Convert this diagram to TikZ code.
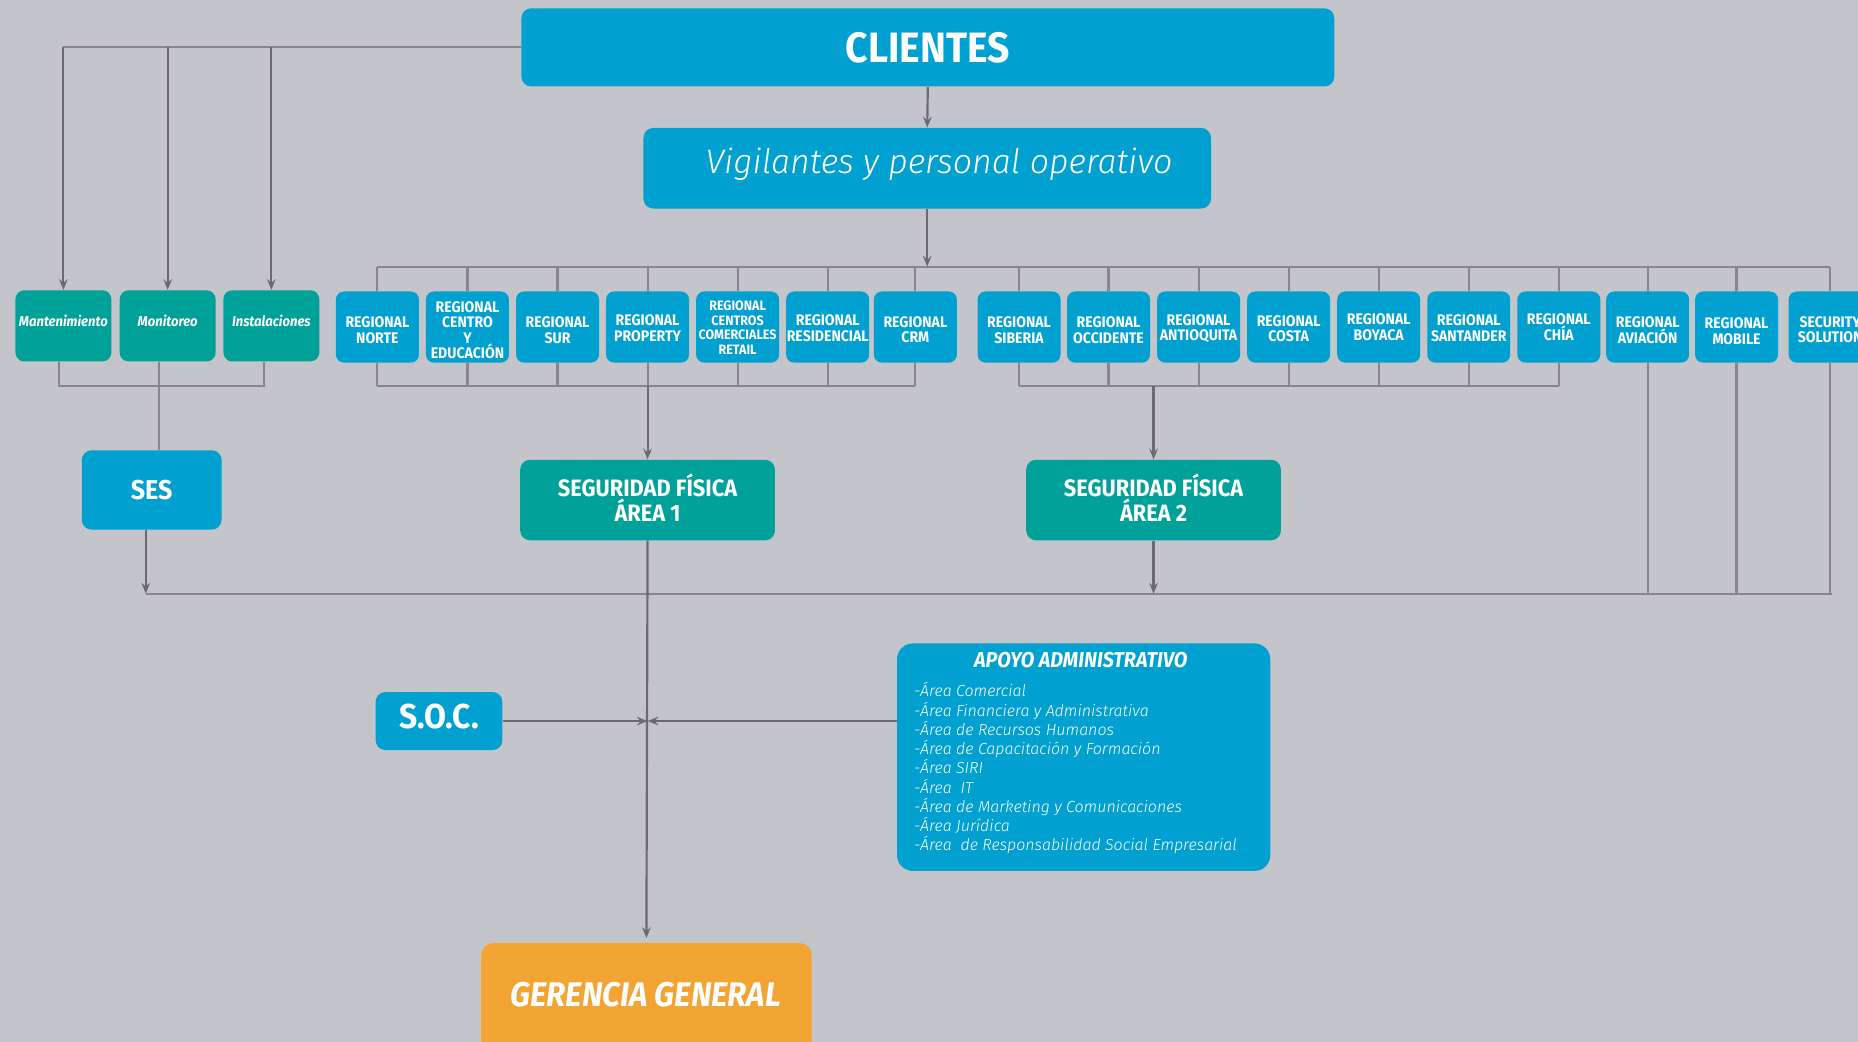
\documentclass[tikz,border=0pt]{standalone}
\usepackage{fontspec}
\setmainfont{Fira Sans}
\newfontfamily\bfc{Fira Sans}[FakeStretch=0.92]
\newfontfamily\lit{Fira Sans Light Italic}
\usetikzlibrary{arrows.meta}
\newlength\uu \setlength\uu{0.6pt}
\definecolor{bg}{RGB}{196,197,202}
\definecolor{cblue}{RGB}{0,160,209}
\definecolor{cteal}{RGB}{0,161,153}
\definecolor{corange}{RGB}{243,165,52}
\definecolor{cline}{RGB}{108,106,110}
\definecolor{ctree}{RGB}{136,134,138}
\tikzset{
  boxbase/.style={inner sep=0pt, align=center, text=white},
  rbox/.style={boxbase, fill=cblue, rounded corners=4pt, minimum width=70\uu, minimum height=60\uu},
  tbox/.style={boxbase, fill=cteal, rounded corners=4.5pt, minimum width=81\uu, minimum height=60\uu},
  bigblue/.style={boxbase, fill=cblue, rounded corners=5pt},
  bigteal/.style={boxbase, fill=cteal, rounded corners=5pt},
  txt/.style={inner sep=0pt, text=white},
  rtxt/.style={txt, align=center, font={\bfc\bfseries\fontsize{7.75}{7.8}\selectfont}},
  ttxt/.style={txt, font={\bfc\bfseries\itshape\fontsize{7.2}{8}\selectfont}},
  segtxt/.style={txt, align=center, font={\bfc\bfseries\fontsize{12}{12.3}\selectfont}},
  arr/.style={draw=cline, line width=1.1pt, -{Stealth[length=5.5pt,width=4.4pt,inset=2pt]}},
  tree/.style={draw=ctree, line width=1.1pt},
}
\newcommand\rb[4]{\node[rbox] (#1) at (#2,276) {}; \node[rtxt] (#1t) at ([yshift=#3\uu]#1.center) {#4};}
\newcommand\tb[3]{\node[tbox] (#1) at (#2,275) {}; \node[ttxt] (#1t) at ([yshift=4\uu]#1.center) {#3};}
\begin{document}
\begin{tikzpicture}[x=0.6pt,y=-0.6pt]
\setlength{\lineskiplimit}{-20pt}
\useasboundingbox (0,0) rectangle (1568,879);
\fill[bg] (0,0) rectangle (1568,879);
\clip (0,0) rectangle (1568,879);

% main boxes
\node[bigblue, minimum width=686\uu, minimum height=66\uu, font=\bfc\bfseries\fontsize{21.5}{24}\selectfont] (cli) at (783,40) {CLIENTES};
\node[bigblue, minimum width=479\uu, minimum height=68\uu] (vig) at (782.5,142) {};
\node[txt, font=\lit\fontsize{17.2}{20}\selectfont] (vigt) at (792.5,139) {Vigilantes y personal operativo};

% left teal boxes
\tb{m1}{53.5}{Mantenimiento}
\tb{m2}{141.5}{Monitoreo}
\tb{m3}{229}{Instalaciones}

% regional boxes
\rb{r1}{318.5}{-2.5}{REGIONAL\\NORTE}
\rb{r2}{394.5}{-2.5}{REGIONAL\\CENTRO\\Y\\EDUCACIÓN}
\rb{r3}{470.5}{-2.5}{REGIONAL\\SUR}
\rb{r4}{546.5}{-1}{REGIONAL\\PROPERTY}
\node[rbox] (r5) at (622.5,276) {};
\node[rtxt, font=\bfc\bfseries\fontsize{6.9}{7.4}\selectfont] (r5t) at ([yshift=-0.5\uu]r5.center) {REGIONAL\\CENTROS\\COMERCIALES\\RETAIL};
\rb{r6}{698.5}{-1}{REGIONAL\\RESIDENCIAL}
\rb{r7}{772.5}{-2}{REGIONAL\\CRM}
\rb{r8}{860}{-2.5}{REGIONAL\\SIBERIA}
\rb{r9}{935.5}{-2.5}{REGIONAL\\OCCIDENTE}
\rb{r10}{1011.5}{-1.5}{REGIONAL\\ANTIOQUITA}
\rb{r11}{1087.5}{-1.5}{REGIONAL\\COSTA}
\rb{r12}{1163.5}{0}{REGIONAL\\BOYACA}
\rb{r13}{1239.5}{-1}{REGIONAL\\SANTANDER}
\rb{r14}{1315.5}{0}{REGIONAL\\CHÍA}
\rb{r15}{1390.5}{-2.5}{REGIONAL\\AVIACIÓN}
\rb{r16}{1465.5}{-3.5}{REGIONAL\\MOBILE}
\rb{r17}{1544.5}{-2}{SECURITY\\SOLUTION}

% middle boxes
\node[bigblue, minimum width=118\uu, minimum height=67\uu, font=\bfc\bfseries\fontsize{13.8}{15}\selectfont] (ses) at (128,413.5) {SES};
\node[bigteal, minimum width=215\uu, minimum height=68\uu] (seg1) at (546.5,422) {};
\node[segtxt] (seg1t) at ([yshift=2\uu]seg1.center) {SEGURIDAD FÍSICA\\ÁREA 1};
\node[bigteal, minimum width=215\uu, minimum height=68\uu] (seg2) at (973.5,422) {};
\node[segtxt] (seg2t) at ([yshift=2\uu]seg2.center) {SEGURIDAD FÍSICA\\ÁREA 2};
\node[bigblue, minimum width=107\uu, minimum height=49\uu] (soc) at (370.5,608.5) {};
\node[txt, font=\bfc\bfseries\fontsize{17.5}{19}\selectfont] (soct) at ([yshift=3.5\uu]soc.center) {S.O.C.};

% apoyo
\node[bigblue, rounded corners=8pt, minimum width=315\uu, minimum height=192\uu] (apo) at (914.5,639) {};
\node[txt, anchor=base, font=\bfc\bfseries\itshape\fontsize{10.9}{12}\selectfont] (apot) at (912,563) {APOYO ADMINISTRATIVO};
\foreach \t [count=\i from 0] in {-Área Comercial,-Área Financiera y Administrativa,-Área de Recursos Humanos,-Área de Capacitación y Formación,-Área SIRI,-Área\ \ IT,-Área de Marketing y Comunicaciones,-Área Jurídica,-Área\ \ de Responsabilidad Social Empresarial}
  \node[txt, anchor=base west, font=\lit\fontsize{8.1}{10}\selectfont] (apl\i) at (771,588+16.25*\i) {\t};

% gerencia
\node[boxbase, fill=corange, rounded corners=6pt, minimum width=279\uu, minimum height=110\uu] (ger) at (545.5,851) {};
\node[txt, font=\bfc\bfseries\itshape\fontsize{17.3}{19}\selectfont] (gert) at (545,839) {GERENCIA GENERAL};

% coordinates for buses
\coordinate (bus) at (0,225);
\coordinate (lb) at (0,326);
\coordinate (bb) at (0,501);
\coordinate (bbR) at (1546,501);

% connectors top
\draw[arr] (cli.south) -- (vig.north);
\draw[arr] (vig.south) -- (vig.south |- bus);
\draw[tree] (r1.north |- bus) -- (r17.north |- bus);
\foreach \i in {1,...,17} \draw[tree] (r\i.north) -- (r\i.north |- bus);

% left
\draw[tree] (cli.west) -- (cli.west -| m1.north);
\foreach \i in {1,2,3} \draw[arr] (cli.west -| m\i.north) -- (m\i.north);

% teal bracket to SES
\draw[tree] ([xshift=-3.5\uu]m1.south) -- ([xshift=-3.5\uu]m1.south |- lb) -- ([xshift=-6\uu]m3.south |- lb) -- ([xshift=-6\uu]m3.south);
\draw[tree] ([xshift=-7.5\uu]m2.south) -- ([xshift=-7.5\uu]m2.south |- ses.north);

% regional brackets
\foreach \i in {1,...,14} \draw[tree] (r\i.south) -- (r\i.south |- lb);
\draw[tree] (r1.south |- lb) -- (r7.south |- lb);
\draw[tree] (r8.south |- lb) -- (r14.south |- lb);
\draw[arr] (seg1.north |- lb) -- (seg1.north);
\draw[arr] (seg2.north |- lb) -- (seg2.north);

% bottom bus
\draw[tree] ([xshift=-5\uu]ses.south |- bb) -- (bbR);
\draw[arr] ([xshift=-5\uu]ses.south) -- ([xshift=-5\uu]ses.south |- bb);
\foreach \i in {15,16,17} \draw[tree] (r\i.south) -- (r\i.south |- bb);
\draw[arr] (seg2.south) -- (seg2.south |- bb);

% central spine
\draw[arr] (seg1.south) -- ([yshift=4\uu]ger.north);
\draw[arr] (soc.east) -- (soc.east -| seg1.south);
\draw[arr] (soc.east -| apo.west) -- (soc.east -| seg1.south);
\end{tikzpicture}
\end{document}
